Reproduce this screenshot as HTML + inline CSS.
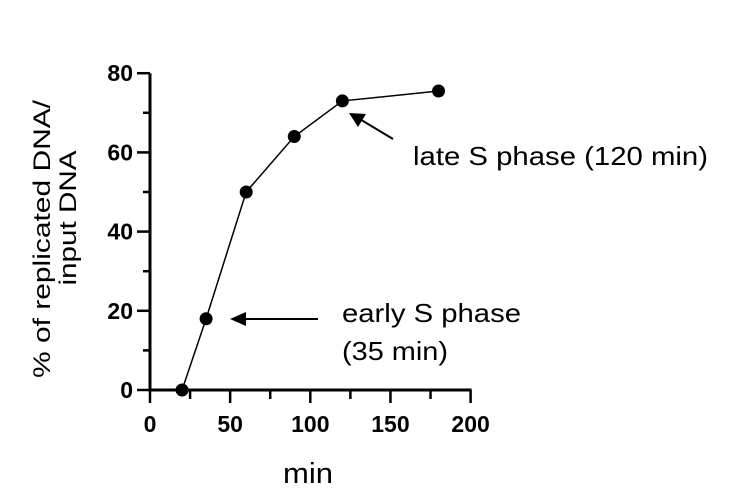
<!DOCTYPE html>
<html><head><meta charset="utf-8"><style>
body{margin:0;background:#fff}
svg{display:block;font-family:"Liberation Sans",Arial,sans-serif}
</style></head><body>
<svg id="c" width="740" height="503">
<g id="axes"></g><g id="plot"></g>
<line x1="318" y1="319" x2="240" y2="319" stroke="#000" stroke-width="2"/>
<polygon points="230,319 246,312 246,326" fill="#000"/>
<line x1="393" y1="139" x2="358" y2="118" stroke="#000" stroke-width="2"/>
<polygon points="349,113 366,114 358,127" fill="#000"/>
<text x="342" y="322" font-size="26" textLength="179" lengthAdjust="spacingAndGlyphs">early S phase</text>
<text x="342" y="360" font-size="26" textLength="106" lengthAdjust="spacingAndGlyphs">(35 min)</text>
<text x="413" y="165" font-size="26" textLength="295" lengthAdjust="spacingAndGlyphs">late S phase (120 min)</text>
<text x="308" y="483" font-size="29" text-anchor="middle" textLength="50" lengthAdjust="spacingAndGlyphs">min</text>
<text transform="translate(50,239) rotate(-90)" font-size="24" text-anchor="middle" textLength="278" lengthAdjust="spacingAndGlyphs">% of replicated  DNA/</text>
<text transform="translate(76,218) rotate(-90)" font-size="24" text-anchor="middle" textLength="135" lengthAdjust="spacingAndGlyphs">input DNA</text>
</svg>
<script>
const xs=[20,35,60,90,120,180];
const ys=[0,18,50,64,73,75.5];
const xTicks=[0,50,100,150,200];
const yTicks=[0,20,40,60,80];
const X=v=>150+v*1.603, Y=v=>390-v*3.96;
const NS="http://www.w3.org/2000/svg";
const ax=document.getElementById('axes'), pl=document.getElementById('plot');
function mk(p,t,a){const e=document.createElementNS(NS,t);for(const k in a)e.setAttribute(k,a[k]);p.appendChild(e);return e;}
let e=mk(ax,'line',{x1:150,y1:Y(80),x2:150,y2:391,stroke:'#000','stroke-width':3});


e=mk(ax,'line',{x1:149,y1:390,x2:X(200)+1,y2:390,stroke:'#000','stroke-width':3});


for(let v=0;v<=80;v+=10){const maj=v%20==0;e=mk(ax,'line',{x1:maj?137:143,y1:Y(v),x2:150,y2:Y(v),stroke:'#000','stroke-width':2.5});

}
for(let v=0;v<=200;v+=25){const maj=v%50==0;e=mk(ax,'line',{x1:X(v),y1:390,x2:X(v),y2:maj?403:399,stroke:'#000','stroke-width':2.5});

}
yTicks.forEach(v=>{e=mk(ax,'text',{x:133,y:Y(v)+8,'text-anchor':'end','font-size':23,'font-weight':'bold'});e.textContent=v;

});
xTicks.forEach(v=>{e=mk(ax,'text',{x:X(v),y:432,'text-anchor':'middle','font-size':23,'font-weight':'bold'});e.textContent=v;

});
e=mk(pl,'polyline',{points:xs.map((x,i)=>X(x)+','+Y(ys[i])).join(' '),fill:'none',stroke:'#000','stroke-width':1.5});


xs.forEach((x,i)=>{e=mk(pl,'circle',{cx:X(x),cy:Y(ys[i]),r:6.5,fill:'#000'});

});
</script>
</body></html>
